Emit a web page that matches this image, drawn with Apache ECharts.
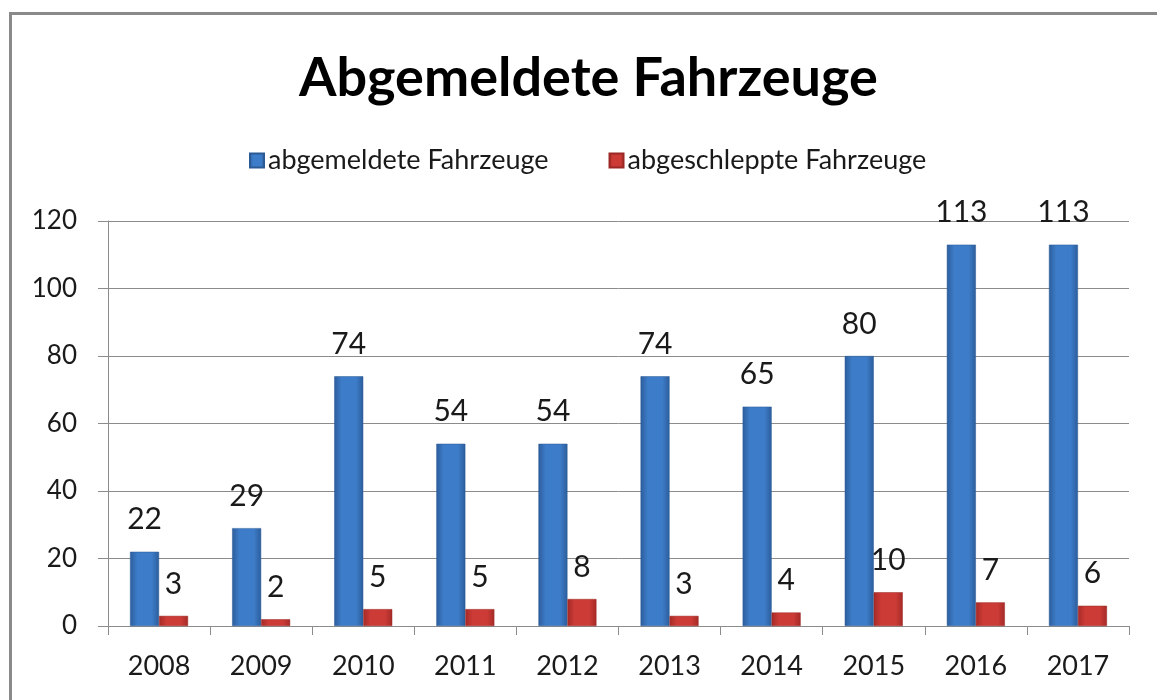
<!DOCTYPE html>
<html>
<head>
<meta charset="utf-8">
<script src="https://cdn.jsdelivr.net/npm/echarts@6/dist/echarts.min.js"></script>
<style>
  html, body { margin: 0; padding: 0; background: #fff; }
  #chart { width: 1157px; height: 700px; }
</style>
</head>
<body>
<div id="chart"></div>
<script>
// chart data
const years = ['2008', '2009', '2010', '2011', '2012', '2013', '2014', '2015', '2016', '2017']
const abgemeldet = [22, 29, 74, 54, 54, 74, 65, 80, 113, 113]
const abgeschleppt = [3, 2, 5, 5, 8, 3, 4, 10, 7, 6]
const yTicks = [0, 20, 40, 60, 80, 100, 120]

const font = 'Lato, "Open Sans", sans-serif'

const barGradient = (dark, mid) => new echarts.graphic.LinearGradient(0, 0, 1, 0, [
  { offset: 0, color: dark },
  { offset: 0.25, color: mid },
  { offset: 0.75, color: mid },
  { offset: 1, color: dark }
])

const chart = echarts.init(document.getElementById('chart'))

const labelStyle = {
  show: true,
  position: 'top',
  distance: 17,
  fontFamily: font,
  fontSize: 30,
  color: '#1a1a1a'
}

chart.setOption({
  animation: false,
  title: {
    text: 'Abgemeldete Fahrzeuge',
    left: 294,
    top: 47,
    textStyle: { fontFamily: font, fontWeight: 'bold', fontSize: 54, color: '#000' }
  },
  legend: {
    top: 142,
    left: 244,
    itemWidth: 14,
    itemHeight: 14,
    itemGap: 60,
    icon: 'rect',
    textStyle: { fontFamily: font, fontSize: 27, color: '#1a1a1a', padding: [0, 0, 0, -1] },
    data: ['abgemeldete Fahrzeuge', 'abgeschleppte Fahrzeuge']
  },
  graphic: [{
    type: 'rect',
    shape: { x: 10.5, y: 13.5, width: 1200, height: 800 },
    style: { fill: 'none', stroke: '#8a8a8a', lineWidth: 3 },
    silent: true
  }],
  grid: { left: 108, right: 28, top: 221, bottom: 74 },
  xAxis: {
    type: 'category',
    data: years,
    axisLine: { lineStyle: { color: '#8c8c8c', width: 1 } },
    axisTick: { show: true, length: 9, lineStyle: { color: '#8c8c8c' } },
    axisLabel: { fontFamily: font, fontSize: 27, color: '#1a1a1a', margin: 27 }
  },
  yAxis: {
    type: 'value',
    min: 0,
    max: 120,
    interval: 20,
    axisLine: { show: true, lineStyle: { color: '#8c8c8c', width: 1 } },
    axisTick: { show: true, length: 10, lineStyle: { color: '#8c8c8c' } },
    splitLine: { lineStyle: { color: '#8c8c8c', width: 1 } },
    axisLabel: {
      fontFamily: font, fontSize: 26, color: '#1a1a1a', margin: 31,
      formatter: v => yTicks.includes(v) ? String(v) : ''
    }
  },
  series: [
    {
      name: 'abgemeldete Fahrzeuge',
      type: 'bar',
      data: abgemeldet,
      barWidth: 29,
      barGap: '0%',
      itemStyle: {
        color: barGradient('#2c5d9c', '#3d7cc8'),
        borderColor: '#2b5a94',
        borderWidth: 0.5
      },
      label: labelStyle
    },
    {
      name: 'abgeschleppte Fahrzeuge',
      type: 'bar',
      data: abgeschleppt,
      barWidth: 29,
      itemStyle: {
        color: barGradient('#a52a27', '#cc3b36'),
        borderColor: '#9a2825',
        borderWidth: 0.5
      },
      label: labelStyle
    }
  ]
})

window.addEventListener('resize', () => chart.resize())
</script>
</body>
</html>
